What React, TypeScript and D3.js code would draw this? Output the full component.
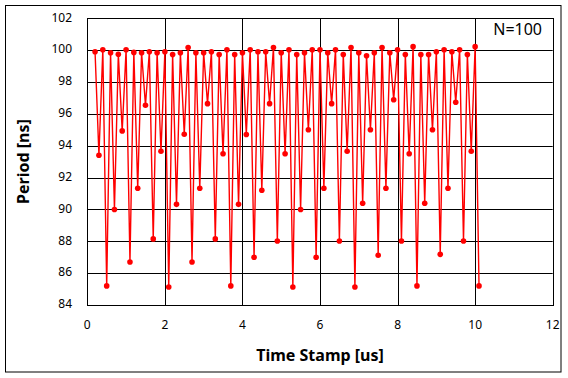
import React from "react";
import * as d3 from "d3";

const periods: number[] = [
  99.9, 93.4, 100.03, 85.2, 99.84, 90.0, 99.74, 94.93, 100.03, 86.7,
  99.86, 91.33, 99.84, 96.54, 99.9, 88.15, 99.84, 93.65, 99.9, 85.13,
  99.72, 90.32, 99.84, 94.72, 100.16, 86.7, 99.84, 91.33, 99.84, 96.64,
  99.9, 88.15, 99.72, 93.5, 100.03, 85.2, 99.72, 90.32, 99.84, 94.7,
  100.03, 87.0, 99.9, 91.2, 99.9, 96.64, 100.16, 88.02, 99.84, 93.5,
  100.03, 85.13, 99.72, 90.0, 99.84, 95.0, 100.03, 87.0, 100.03, 91.33,
  99.84, 96.64, 100.03, 88.02, 99.72, 93.65, 100.16, 85.13, 99.84, 90.39,
  99.65, 95.0, 99.84, 87.12, 100.16, 91.33, 99.84, 96.89, 100.03, 88.02,
  99.72, 93.5, 100.22, 85.2, 99.72, 90.39, 99.72, 95.0, 99.9, 87.18,
  100.03, 91.33, 99.9, 96.73, 100.03, 88.02, 99.72, 93.65, 100.22, 85.2,
];
// time stamps in us: first sample at 0.2 us, one sample every 0.1 us
const T0 = 0.2;
const DT = 0.1;
const timeStamps: number[] = periods.map((_, i) => +(T0 + i * DT).toFixed(2));

const xTicks: number[] = [0, 2, 4, 6, 8, 10, 12];
const yTicks: number[] = [84, 86, 88, 90, 92, 94, 96, 98, 100, 102];

const W = 568;
const H = 378;
const L = 87.3, R = 552.7, T = 18.3, B = 305;
const FONT = "'Noto Sans', 'DejaVu Sans', sans-serif";

export default function App() {
  const x = d3.scaleLinear().domain([0, 12]).range([L, R]);
  const y = d3.scaleLinear().domain([84, 102]).range([B, T]);
  const pts = periods.map((p, i) => [timeStamps[i], p] as [number, number]);
  const line = d3
    .line<[number, number]>()
    .x((d) => x(d[0]))
    .y((d) => y(d[1]));

  return (
    <div style={{ position: "fixed", left: 0, top: 0 }}>
      <svg width={W} height={H} style={{ display: "block", background: "#fff" }}>
        <rect x={5.5} y={5.5} width={555.5} height={366.5} fill="#fff" stroke="#000" strokeWidth={1} />
        {/* grid */}
        {yTicks.map((t) => (
          <line key={"gy" + t} x1={L} x2={R} y1={Math.round(y(t)) + 0.5} y2={Math.round(y(t)) + 0.5} stroke="#000" strokeWidth={1} />
        ))}
        {xTicks.map((t) => (
          <line key={"gx" + t} x1={Math.round(x(t)) + 0.5} x2={Math.round(x(t)) + 0.5} y1={T} y2={B} stroke="#000" strokeWidth={1} />
        ))}
        <rect x={Math.round(L) + 0.5} y={Math.round(T) + 0.5} width={Math.round(R) - Math.round(L)} height={Math.round(B) - Math.round(T)} fill="none" stroke="#000" strokeWidth={1} />
        {/* tick labels */}
        {yTicks.map((t) => (
          <text key={"ly" + t} x={72} y={y(t)} textAnchor="end" dominantBaseline="middle" fontFamily={FONT} fontSize={12} fill="#000">
            {t}
          </text>
        ))}
        {xTicks.map((t) => (
          <text key={"lx" + t} x={x(t)} y={326} textAnchor="middle" dominantBaseline="middle" fontFamily={FONT} fontSize={12} fill="#000">
            {t}
          </text>
        ))}
        {/* axis titles */}
        <text x={320} y={361} textAnchor="middle" fontFamily={FONT} fontSize={16} fontWeight="bold" fill="#000">
          Time Stamp [us]
        </text>
        <text transform={`translate(29,${(T + B) / 2}) rotate(-90)`} textAnchor="middle" fontFamily={FONT} fontSize={16} fontWeight="bold" fill="#000">
          Period [ns]
        </text>
        <text x={542} y={35} textAnchor="end" fontFamily={FONT} fontSize={16} fill="#000">
          N=100
        </text>
        {/* series */}
        <path d={line(pts) || ""} fill="none" stroke="#ff0000" strokeWidth={1.4} />
        {pts.map((d, i) => (
          <circle key={"p" + i} cx={x(d[0])} cy={y(d[1])} r={2.8} fill="#ff0000" />
        ))}
      </svg>
    </div>
  );
}
